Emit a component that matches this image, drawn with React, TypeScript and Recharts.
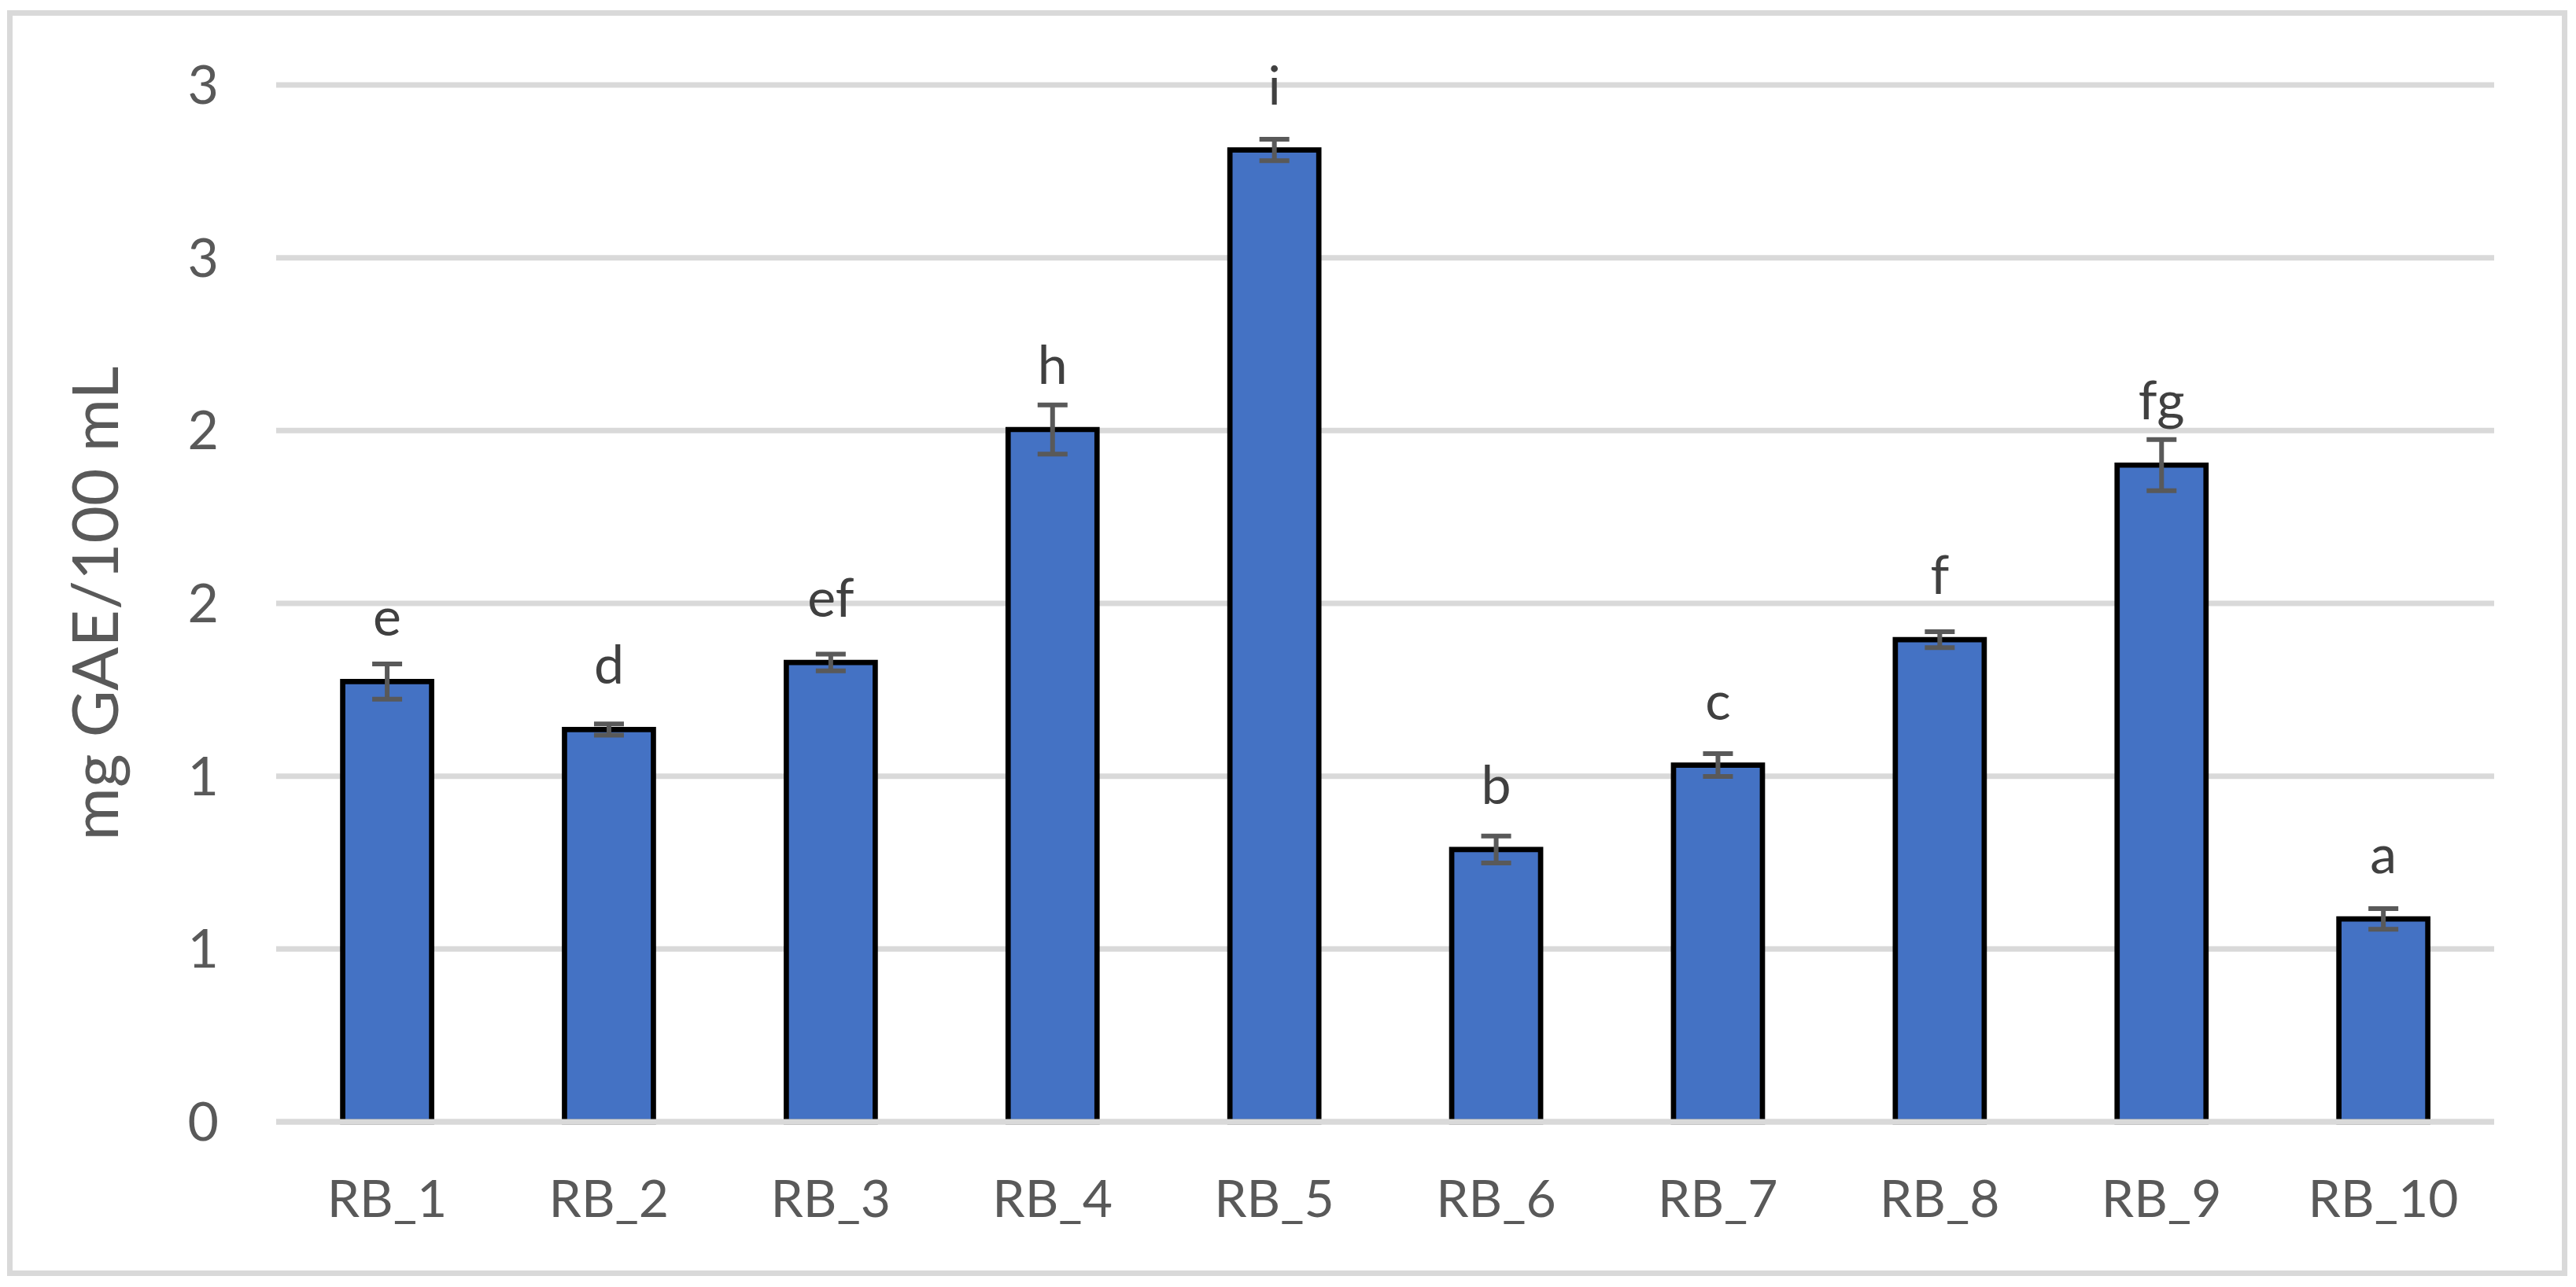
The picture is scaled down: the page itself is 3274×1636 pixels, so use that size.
import React from 'react';
import { BarChart, Bar, XAxis, YAxis, CartesianGrid, ErrorBar, LabelList, Label } from 'recharts';

const categories = ['RB_1', 'RB_2', 'RB_3', 'RB_4', 'RB_5', 'RB_6', 'RB_7', 'RB_8', 'RB_9', 'RB_10'];
const values = [1.274, 1.135, 1.329, 2.003, 2.812, 0.788, 1.032, 1.395, 1.9, 0.587];
const errors = [0.051, 0.016, 0.024, 0.071, 0.031, 0.039, 0.033, 0.023, 0.074, 0.03];
const letters = ['e', 'd', 'ef', 'h', 'i', 'b', 'c', 'f', 'fg', 'a'];
const yTicks = [0, 0.5, 1, 1.5, 2, 2.5, 3];
const yTitle = 'mg GAE/100 mL';

const data = categories.map((c, i) => ({ name: c, value: values[i], err: errors[i], letter: letters[i] }));

const FONT = 'Lato, "Noto Sans", sans-serif';
const TICK_COLOR = '#595959';

const TitleLabel = (props: any) => {
  const vb = props.viewBox || { x: 0, y: 108, width: 351, height: 1318 };
  const cx = 150;
  const cy = vb.y + vb.height / 2;
  return (
    <text
      x={cx}
      y={cy}
      transform={`rotate(-90 ${cx} ${cy})`}
      textAnchor="middle"
      fill={TICK_COLOR}
      fontSize={82}
      fontFamily={FONT}
    >
      {yTitle}
    </text>
  );
};

export default function App() {
  return (
    <div style={{ position: 'absolute', left: 0, top: 0, width: 3274, height: 1636, background: '#fff' }}>
      <div
        style={{
          position: 'absolute',
          left: 9,
          top: 13,
          width: 3254,
          height: 1609,
          border: '7px solid #d9d9d9',
          boxSizing: 'border-box',
        }}
      />
      <div style={{ position: 'absolute', left: 0, top: 0 }}>
        <BarChart
          width={3274}
          height={1636}
          data={data}
          margin={{ top: 108, right: 104, bottom: 0, left: 0 }}
          barCategoryGap="30%"
        >
          <CartesianGrid vertical={false} stroke="#d9d9d9" strokeWidth={7} />
          <YAxis
            width={351}
            domain={[0, 3]}
            ticks={yTicks}
            interval={0}
            tickFormatter={(v: number) => String(Math.round(v))}
            axisLine={false}
            tickLine={false}
            tickSize={10}
            tickMargin={63}
            tick={{ fill: TICK_COLOR, fontSize: 68, fontFamily: FONT }}
          >
            <Label content={TitleLabel} />
          </YAxis>
          <Bar dataKey="value" fill="#4472C4" stroke="#000" strokeWidth={6.7} isAnimationActive={false}>
            <ErrorBar dataKey="err" width={19} stroke="#595959" strokeWidth={6} direction="y" isAnimationActive={false} />
            <LabelList dataKey="letter" position="top" offset={58} fill="#404040" fontSize={68} fontFamily={FONT} />
          </Bar>
          <XAxis
            dataKey="name"
            height={210}
            interval={0}
            axisLine={{ stroke: '#d9d9d9', strokeWidth: 7 }}
            tickLine={false}
            tickSize={10}
            tickMargin={64}
            tick={{ fill: TICK_COLOR, fontSize: 66, fontFamily: FONT }}
          />
        </BarChart>
      </div>
    </div>
  );
}
